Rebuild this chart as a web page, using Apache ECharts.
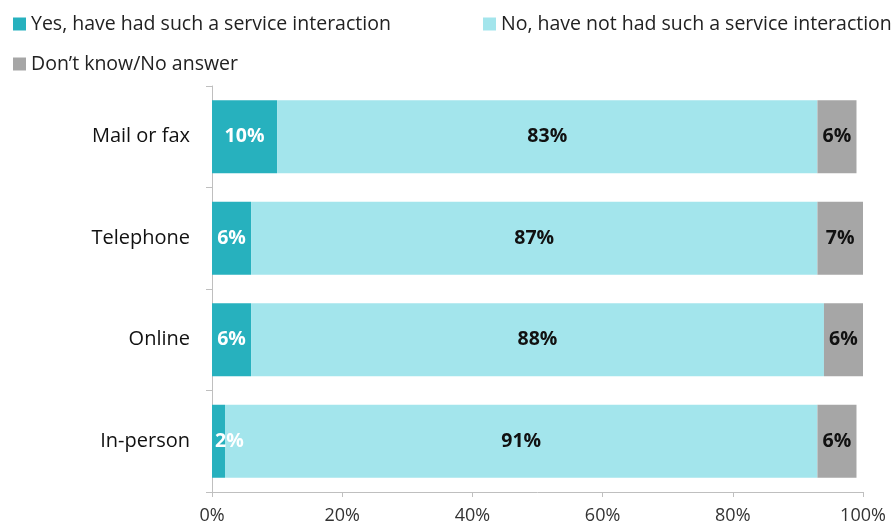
<!DOCTYPE html>
<html>
<head>
<meta charset="utf-8">
<script src="https://cdn.jsdelivr.net/npm/echarts@6/dist/echarts.min.js"></script>
<style>
  html, body { margin: 0; padding: 0; background: #fff; }
  #chart { width: 893px; height: 527px; }
</style>
</head>
<body>
<div id="chart"></div>
<script>
// Service channels, top to bottom
const categories = ['Mail or fax', 'Telephone', 'Online', 'In-person'];
const seriesNames = [
  'Yes, have had such a service interaction',
  'No, have not had such a service interaction',
  'Don\u2019t know/No answer'
];
const yesValues = [10, 6, 6, 2];
const noValues = [83, 87, 88, 91];
const dkValues = [6, 7, 6, 6];
const xTicks = [0, 20, 40, 60, 80, 100];

const FONT = '"Open Sans", Lato, sans-serif';
const colors = ['#27B1BE', '#A3E5EC', '#A6A6A6'];

const chart = echarts.init(document.getElementById('chart'), null, { renderer: 'canvas' });

function legendAt(name, left, top) {
  return {
    data: [name],
    left: left,
    top: top,
    icon: 'rect',
    itemWidth: 13,
    itemHeight: 13,
    itemGap: 0,
    textStyle: { fontFamily: FONT, fontSize: 19.5, color: '#222' }
  };
}

// Very short segments get their label pinned to the bar start
const yesData = yesValues.map(function (v) {
  if (v < 4) {
    return { value: v, label: { position: 'insideLeft', offset: [-2, 0] } };
  }
  return v;
});

const barLabel = function (color) {
  return {
    show: true,
    position: 'inside',
    formatter: '{c}%',
    fontFamily: FONT,
    fontWeight: 'bold',
    fontSize: 19.5,
    color: color
  };
};

chart.setOption({
  animation: false,
  color: colors,
  legend: [
    legendAt(seriesNames[0], 8, 9),
    legendAt(seriesNames[1], 478, 9),
    legendAt(seriesNames[2], 8, 49)
  ],
  grid: { left: 212, right: 30, top: 86, bottom: 35, containLabel: false },
  xAxis: {
    type: 'value',
    min: xTicks[0],
    max: xTicks[xTicks.length - 1],
    interval: 20,
    axisLine: { show: true, lineStyle: { color: '#BFBFBF', width: 1 } },
    axisTick: { show: true, length: 5, lineStyle: { color: '#BFBFBF' } },
    splitLine: { show: false },
    axisLabel: {
      formatter: '{value}%',
      fontFamily: FONT,
      fontSize: 18,
      color: '#333',
      margin: 15
    }
  },
  yAxis: {
    type: 'category',
    data: categories,
    inverse: true,
    axisLine: { show: true, lineStyle: { color: '#BFBFBF', width: 1 } },
    axisTick: { show: true, length: 6, lineStyle: { color: '#BFBFBF' } },
    axisLabel: {
      fontFamily: FONT,
      fontSize: 20,
      color: '#111',
      margin: 22
    }
  },
  series: [
    {
      name: seriesNames[0],
      type: 'bar',
      stack: 'total',
      barCategoryGap: '28%',
      data: yesData,
      label: barLabel('#fff')
    },
    {
      name: seriesNames[1],
      type: 'bar',
      stack: 'total',
      data: noValues,
      label: barLabel('#111')
    },
    {
      name: seriesNames[2],
      type: 'bar',
      stack: 'total',
      data: dkValues,
      label: barLabel('#111')
    }
  ]
});
</script>
</body>
</html>
